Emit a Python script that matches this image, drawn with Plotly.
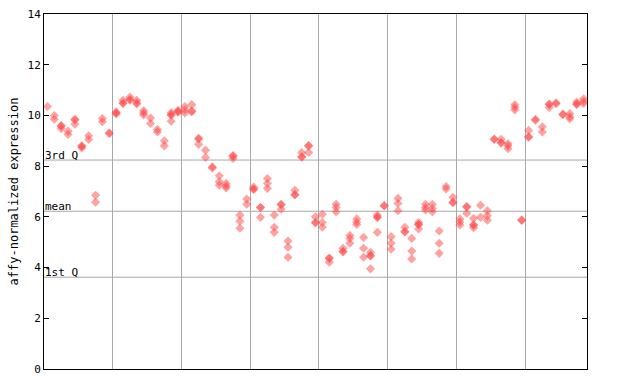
import plotly.graph_objects as go

# Expression values per sample (samples 1..79), several probes per sample
sample_values = [
    [10.35], [10.0, 9.85], [9.6, 9.58, 9.48], [9.38, 9.25], [9.85, 9.82, 9.65],
    [8.8, 8.78, 8.72], [9.2, 9.05], [6.85, 6.58], [9.88, 9.75], [9.31, 9.29],
    [10.14, 10.1, 10.06], [10.6, 10.49, 10.47], [10.72, 10.63, 10.6], [10.6, 10.5, 10.45], [10.18, 10.1, 10.02],
    [9.9, 9.68], [9.45, 9.35], [9.0, 8.8], [10.11, 10.03, 10.01, 9.77], [10.2, 10.15, 10.13],
    [10.35, 10.22, 10.1], [10.43, 10.17, 10.15], [9.1, 9.07, 8.86], [8.63, 8.34], [7.97, 7.93],
    [7.62, 7.38, 7.25], [7.32, 7.22, 7.14], [8.42, 8.39, 8.3], [6.07, 5.83, 5.55], [6.7, 6.5],
    [7.18, 7.1, 7.08], [6.38, 6.36, 5.98], [7.51, 7.32, 7.12], [6.07, 5.59, 5.39], [6.5, 6.48, 6.3],
    [5.05, 4.8, 4.41], [7.05, 6.88, 6.86], [8.54, 8.37, 8.35], [8.81, 8.79, 8.54], [6.0, 5.79, 5.76],
    [6.1, 5.78, 5.59], [4.38, 4.36, 4.21], [6.5, 6.37, 6.2], [4.76, 4.64, 4.62], [5.26, 5.15, 4.96],
    [5.92, 5.8, 5.7], [5.19, 4.76, 4.41], [4.6, 4.48, 4.46, 3.95], [6.07, 5.99, 5.97, 5.39], [6.45, 6.43],
    [5.22, 4.96, 4.72], [6.73, 6.53, 6.24], [5.59, 5.42, 5.4], [5.15, 4.65, 4.34], [5.78, 5.71, 5.69, 5.52],
    [6.5, 6.37, 6.27], [6.5, 6.33, 6.2], [5.44, 4.96, 4.56], [7.2, 7.1], [6.77, 6.58, 6.56],
    [5.92, 5.8, 5.68], [6.41, 6.39, 6.14], [5.94, 5.69, 5.67, 5.57], [6.46, 5.98], [6.24, 6.04, 5.87],
    [9.07, 9.05], [9.06, 8.93, 8.91], [8.88, 8.8, 8.69], [10.42, 10.32, 10.22], [5.88, 5.86],
    [9.41, 9.16, 9.14], [9.85, 9.81], [9.55, 9.35], [10.45, 10.43, 10.31], [10.5, 10.46],
    [10.05, 10.03], [10.07, 9.95, 9.87], [10.53, 10.45, 10.43], [10.66, 10.55, 10.47],
]

ref_labels = ["3rd Q", "mean", "1st Q"]
ref_values = [8.24, 6.22, 3.62]
y_ticks = [0, 2, 4, 6, 8, 10, 12, 14]
group_bounds = [10.5, 20.5, 30.5, 40.5, 50.5, 60.5, 70.5]

xs, ys = [], []
for i, vals in enumerate(sample_values, start=1):
    for v in vals:
        xs.append(i)
        ys.append(v)

font = dict(family="DejaVu Sans Mono", size=11, color="black")
grid_color = "#a8a8a8"

fig = go.Figure()
fig.add_trace(go.Scatter(
    x=xs, y=ys, mode="markers",
    marker=dict(symbol="diamond", size=7, color="rgba(255,70,70,0.5)", line=dict(width=0)),
    showlegend=False, hoverinfo="skip",
))

shapes = []
annotations = []
for lab, val in zip(ref_labels, ref_values):
    shapes.append(dict(type="line", xref="paper", x0=0, x1=1, yref="y", y0=val, y1=val,
                       line=dict(color=grid_color, width=1), layer="below"))
    annotations.append(dict(text=lab, xref="paper", x=0, xanchor="left", yref="y", y=val,
                            yanchor="bottom", showarrow=False, font=font, xshift=-1, yshift=-4))

fig.update_layout(
    width=640, height=384,
    margin=dict(l=44, r=53, t=14, b=15, pad=0),
    paper_bgcolor="white", plot_bgcolor="white",
    font=font,
    shapes=shapes, annotations=annotations,
    xaxis=dict(range=[0.5, 79.5], tickvals=group_bounds, showticklabels=False, ticks="",
               showgrid=True, gridcolor=grid_color, gridwidth=1, zeroline=False,
               showline=True, linecolor="black", linewidth=1, mirror=True, automargin=False),
    yaxis=dict(range=[0, 14], tickvals=y_ticks, ticks="inside", ticklen=5, tickcolor="black",
               showgrid=False, zeroline=False, showline=True, linecolor="black", linewidth=1,
               mirror="ticks", automargin=False,
               title=dict(text="affy-normalized expression",
                          font=dict(family="DejaVu Sans Mono", size=12, color="black"), standoff=6)),
)

fig.write_html("out.html")
